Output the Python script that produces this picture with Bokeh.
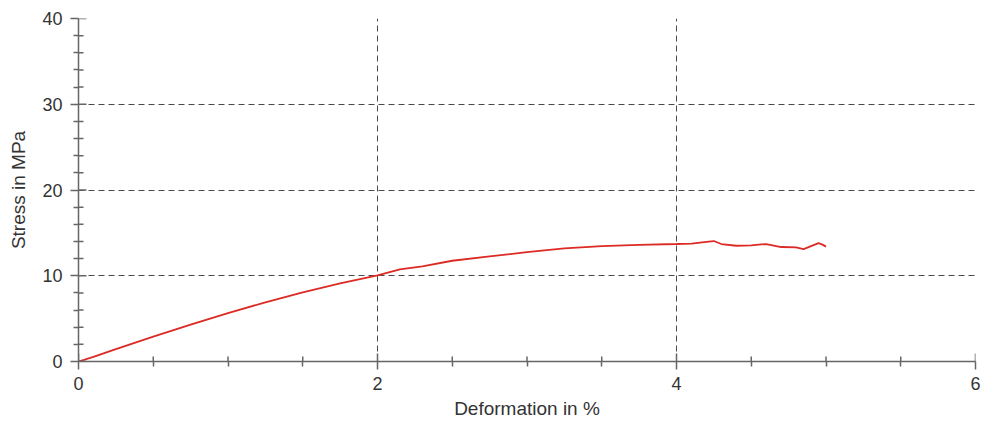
import math

from bokeh.plotting import figure
from bokeh.models import FixedTicker, Range1d
from bokeh.embed import file_html
from bokeh.resources import INLINE

# Stress-strain curve from a tensile test
deformation = [0.0, 0.1, 0.25, 0.5, 0.75, 1.0, 1.25, 1.5, 1.75, 2.0, 2.15, 2.3,
               2.5, 2.75, 3.0, 3.25, 3.5, 3.75, 4.0, 4.1, 4.2, 4.25, 4.3, 4.4,
               4.5, 4.6, 4.7, 4.8, 4.85, 4.9, 4.95, 4.98, 5.0]
stress = [0.0, 0.55, 1.45, 2.9, 4.3, 5.65, 6.9, 8.05, 9.1, 10.05, 10.75, 11.1,
          11.75, 12.25, 12.75, 13.2, 13.45, 13.6, 13.7, 13.75, 13.95, 14.05, 13.7, 13.5,
          13.55, 13.7, 13.35, 13.3, 13.1, 13.45, 13.8, 13.6, 13.4]

x_ticks = [0, 2, 4, 6]
y_ticks = [0, 10, 20, 30, 40]
x_minor = [i * 0.5 for i in range(13) if i % 4]
y_minor = [i * 2 for i in range(21) if i % 5]

FONT = "Liberation Sans"
AXIS_COLOR = "#666666"
TEXT_COLOR = "#333333"

p = figure(width=981, height=421, output_backend="svg", toolbar_location=None,
           x_range=Range1d(0, 6), y_range=Range1d(0, 40),
           min_border_left=78, min_border_right=6, min_border_top=18,
           min_border_bottom=59)
p.outline_line_color = None
p.background_fill_color = "white"
p.border_fill_color = "white"

for g in (p.xgrid[0], p.ygrid[0]):
    g.grid_line_color = "#4a4a4a"
    g.grid_line_width = 1
    g.grid_line_dash = "6 4"

p.line(deformation, stress, line_color="#dc2a24", line_width=1.8)

for ax, ticks, minor in ((p.xaxis[0], x_ticks, x_minor), (p.yaxis[0], y_ticks, y_minor)):
    ax.ticker = FixedTicker(ticks=ticks, minor_ticks=minor)
    ax.axis_line_color = AXIS_COLOR
    ax.axis_line_width = 1.5
    ax.major_tick_line_color = AXIS_COLOR
    ax.minor_tick_line_color = AXIS_COLOR
    ax.major_tick_line_width = 1.5
    ax.minor_tick_line_width = 1.5
    ax.major_tick_in = 0
    ax.major_tick_out = 8
    ax.minor_tick_in = 0
    ax.minor_tick_out = 5
    ax.major_label_text_font = FONT
    ax.major_label_text_font_size = "18px"
    ax.major_label_text_color = TEXT_COLOR
    ax.axis_label_text_font = FONT
    ax.axis_label_text_font_size = "19px"
    ax.axis_label_text_font_style = "normal"
    ax.axis_label_text_color = TEXT_COLOR

p.xaxis.axis_label = "Deformation in %"
p.yaxis.axis_label = "Stress in MPa"
p.xaxis.major_label_standoff = 7
p.yaxis.major_label_standoff = 8
p.xaxis.axis_label_standoff = 5
p.yaxis.axis_label_standoff = 10

# inner halves of the tick marks, centred on the axis lines (outer halves are clipped)
tick_style = dict(marker="dash", line_color=AXIS_COLOR, line_width=1.5, fill_color=None)
p.scatter(x=x_ticks, y=[0] * len(x_ticks), angle=math.pi / 2, size=16, **tick_style)
p.scatter(x=x_minor, y=[0] * len(x_minor), angle=math.pi / 2, size=10, **tick_style)
p.scatter(x=[0] * len(y_ticks), y=y_ticks, size=16, **tick_style)
p.scatter(x=[0] * len(y_minor), y=y_minor, size=10, **tick_style)

open("out.html", "w").write(file_html(p, INLINE))
